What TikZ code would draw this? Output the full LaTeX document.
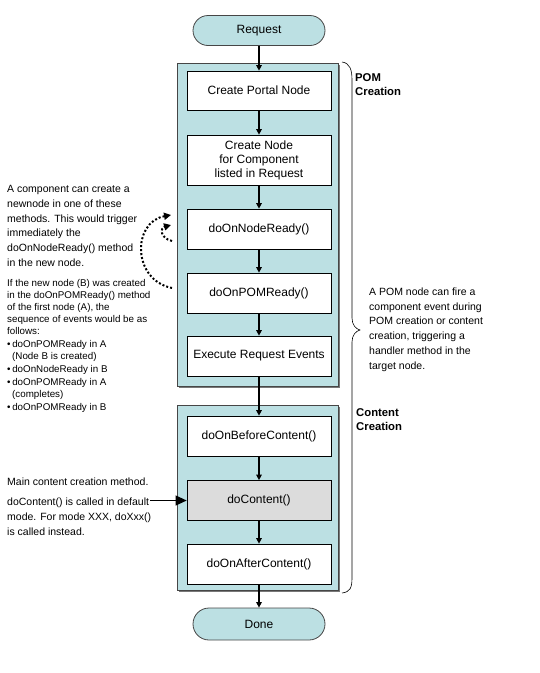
\documentclass[tikz,border=0pt]{standalone}
\usepackage{fontspec}
\setmainfont{Liberation Sans}
\usetikzlibrary{arrows.meta,shadows}
\definecolor{lblue}{RGB}{188,224,227}
\definecolor{cborder}{RGB}{70,70,70}
\definecolor{shgray}{RGB}{120,120,120}
\definecolor{dcgray}{RGB}{220,220,220}
\begin{document}
\begin{tikzpicture}[x=1pt,y=-1pt,
  container/.style={draw=cborder,line width=0.8pt,fill=lblue,minimum width=161pt,inner sep=0pt,
     drop shadow={shadow xshift=2pt,shadow yshift=-2pt,fill=shgray,opacity=1}},
  stepbox/.style={draw=black,line width=0.7pt,fill=white,minimum width=144pt,minimum height=40pt,
     inner sep=0pt,align=center,font=\fontsize{12}{14}\selectfont},
  term/.style={draw=cborder,line width=0.8pt,fill=lblue,minimum width=132pt,minimum height=30pt,
     rounded corners=15pt,inner sep=0pt,font=\fontsize{12}{14}\selectfont},
  arr/.style={draw=black,line width=1.3pt,-{Triangle[length=5.5pt,width=5.5pt]}},
  bigarr/.style={draw=black,line width=1.1pt,-{Triangle[length=11pt,width=10pt]}},
  dotarr/.style={draw=black,line width=2pt,dash pattern=on 2pt off 2pt,
     -{Triangle[length=7pt,width=7pt]}},
  note/.style={anchor=north west,inner sep=0pt,align=left,font=\fontsize{10.5}{14.8}\selectfont},
  smallnote/.style={anchor=north west,inner sep=0pt,align=left,font=\fontsize{9.8}{12}\selectfont},
  heading/.style={anchor=north west,inner sep=0pt,align=left,font=\fontsize{11.3}{14}\selectfont\bfseries}
]
\useasboundingbox (0,0) rectangle (539,673);

% containers
\node[container,minimum height=323pt] (pomc) at (257.5,224.5) {};
\node[container,minimum height=185pt] (contc) at (257.5,497.5) {};

% terminators
\node[term] (req) at (259,30.5) {Request};
\node[term,minimum height=32pt,rounded corners=16pt] (done) at (259,624) {Done};

% steps
\node[stepbox,minimum height=39pt] (cpn) at (259,90.5) {Create Portal Node};
\node[stepbox,minimum height=50pt] (cnc) at (259,160) {Create Node\\for Component\\listed in Request};
\node[stepbox] (dnr) at (259,229) {doOnNodeReady()};
\node[stepbox] (dpr) at (259,293) {doOnPOMReady()};
\node[stepbox] (ere) at (259,356) {Execute Request Events};
\node[stepbox] (dbc) at (259,436) {doOnBeforeContent()};
\node[stepbox,fill=dcgray] (dco) at (259,500.5) {doContent()};
\node[stepbox] (dac) at (259,564) {doOnAfterContent()};

% flow arrows
\draw[arr] (req) -- (cpn);
\draw[arr] (cpn) -- (cnc);
\draw[arr] (cnc) -- (dnr);
\draw[arr] (dnr) -- (dpr);
\draw[arr] (dpr) -- (ere);
\draw[arr] (ere) -- (dbc);
\draw[arr] (dbc) -- (dco);
\draw[arr] (dco) -- (dac);
\draw[arr] (dac) -- (done);

% brace
\draw[line width=0.6pt,black] (342,62) .. controls (350,63) and (352,70) .. (352,80) -- (352,318)
  .. controls (352,325) and (356,329) .. (360,330) .. controls (356,331) and (352,335) .. (352,342)
  -- (352,578) .. controls (352,588) and (350,592) .. (342,593);

% headings
\node[heading] (hpom) at (355,73) {POM\\Creation};
\node[heading] (hcont) at (356,408) {Content\\Creation};

% right note
\node[note] (rnote) at (369,287.5) {A POM node can fire a\\component event during\\POM creation or content\\creation, triggering a\\handler method in the\\target node.};

% left notes
\node[note] (lnote1) at (7,185) {A component can create a\\newnode in one of these\\methods. This would trigger\\immediately the\\doOnNodeReady() method\\in the new node.};
\node[smallnote] (lnote2) at (7,279) {If the new node (B) was created\\in the doOnPOMReady() method\\of the first node (A), the\\sequence of events would be as\\follows:\\[1pt]
•\,doOnPOMReady in A\\\hspace*{5pt}(Node B is created)\\[1pt]
•\,doOnNodeReady in B\\[1pt]
•\,doOnPOMReady in A\\\hspace*{5pt}(completes)\\[1pt]
•\,doOnPOMReady in B};
\node[note] (lnote3) at (7,478) {Main content creation method.};
\node[note] (lnote4) at (7,498) {doContent() is called in default\\mode. For mode XXX, doXxx()\\is called instead.};

% arrow into doContent
\coordinate (la) at (150,500.5);
\draw[bigarr] (la) -- (dco.west);

% dotted arrows
\coordinate (d1s) at (172,288);
\coordinate (d1e) at (171,215);
\coordinate (d2s) at (172,241);
\coordinate (d2e) at (171,225);
\draw[dotarr] (d1s) .. controls (132,280) and (132,222) .. (d1e);
\draw[dotarr] (d2s) .. controls (160,238) and (160,228) .. (d2e);
\end{tikzpicture}
\end{document}
